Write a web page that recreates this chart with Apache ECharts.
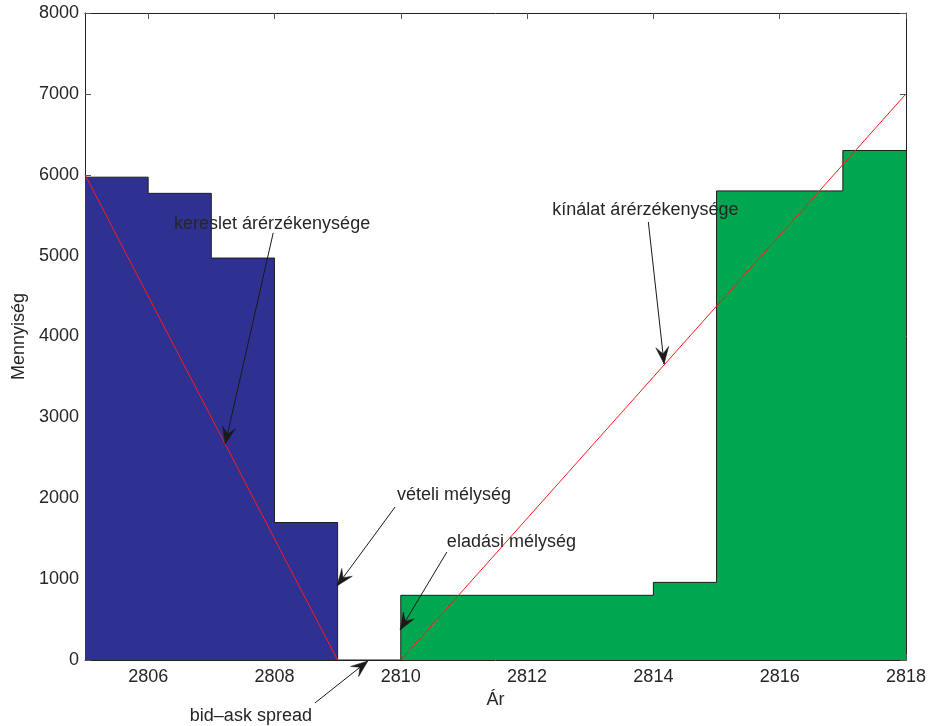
<!DOCTYPE html>
<html>
<head>
<meta charset="utf-8">
<script src="https://cdn.jsdelivr.net/npm/echarts@6/dist/echarts.min.js"></script>
<style>
  html, body { margin: 0; padding: 0; background: #fff; }
  #chart { width: 932px; height: 726px; }
</style>
</head>
<body>
<div id="chart"></div>
<script>
// Order book: bid side (demand) and ask side (supply) as stair steps
const bidPrices = [2805, 2806, 2807, 2808, 2809, 2810];
const bidQty    = [5970, 5770, 4970, 1700, 0, 0];
const askPrices = [2810, 2810, 2814, 2815, 2817, 2818];
const askQty    = [0, 800, 960, 5800, 6300, 6300];

// Price sensitivity lines
const demandLine = [[2805, 6000], [2809, 0]];
const supplyLine = [[2810, 0], [2818, 7000]];

const xTicks = [2806, 2808, 2810, 2812, 2814, 2816, 2818];

// Annotations: label, label anchor [price, qty], arrow start, arrow tip
const notes = [
  ['kereslet árérzékenysége', [2806.41, 5391], [2807.98, 5280], [2807.22, 2670]],
  ['vételi mélység',          [2809.94, 2040], [2809.91, 1892], [2808.99, 915]],
  ['eladási mélység',         [2810.73, 1459], [2810.73, 1335], [2809.99, 371]],
  ['kínálat árérzékenysége',  [2812.40, 5564], [2813.92, 5416], [2814.17, 3660]],
  ['bid\u2013ask spread',     [2806.66, -692], [2808.64, -532], [2809.48, -12]]
];

const font = '"Liberation Sans", Arial, Helvetica, sans-serif';
const textColor = '#262626';
const zip = (xs, ys) => xs.map((x, i) => [x, ys[i]]);

const chart = echarts.init(document.getElementById('chart'), null, { renderer: 'canvas' });

const tickStyle = { show: true, inside: true, length: 6, lineStyle: { color: '#555', width: 1 } };
const plain = v => String(v);

chart.setOption({
  backgroundColor: '#fff',
  animation: false,
  textStyle: { fontFamily: font },
  grid: { left: 85, right: 26, top: 13, bottom: 66, containLabel: false, outerBoundsMode: 'none' },
  xAxis: [{
    type: 'value', min: 2805, max: 2818,
    name: 'Ár', nameLocation: 'middle', nameGap: 28,
    nameTextStyle: { fontFamily: font, fontSize: 18, color: textColor },
    axisLine: { show: true, onZero: false, lineStyle: { color: '#222', width: 1 } },
    axisTick: Object.assign({ customValues: xTicks }, tickStyle),
    axisLabel: { customValues: xTicks, formatter: plain, margin: 8, fontFamily: font, fontSize: 18, color: textColor },
    splitLine: { show: false }
  }, {
    type: 'value', min: 2805, max: 2818, position: 'top',
    axisLine: { show: true, onZero: false, lineStyle: { color: '#222', width: 1 } },
    axisTick: Object.assign({ customValues: xTicks }, tickStyle),
    axisLabel: { show: false },
    splitLine: { show: false }
  }],
  yAxis: [{
    type: 'value', min: 0, max: 8000, interval: 1000,
    name: 'Mennyiség', nameLocation: 'middle', nameGap: 54,
    nameTextStyle: { fontFamily: font, fontSize: 18, color: textColor },
    axisLine: { show: true, onZero: false, lineStyle: { color: '#222', width: 1 } },
    axisTick: tickStyle,
    axisLabel: { formatter: plain, margin: 6, fontFamily: font, fontSize: 18, color: textColor },
    splitLine: { show: false }
  }, {
    type: 'value', min: 0, max: 8000, interval: 1000, position: 'right',
    axisLine: { show: true, onZero: false, lineStyle: { color: '#222', width: 1 } },
    axisTick: tickStyle,
    axisLabel: { show: false },
    splitLine: { show: false }
  }],
  series: [{
    name: 'vételi mélység',
    type: 'line', step: 'end', showSymbol: false, symbol: 'none',
    data: zip(bidPrices, bidQty),
    lineStyle: { color: '#1e1e1e', width: 1 },
    areaStyle: { color: '#2e3192', opacity: 1 },
    z: 2
  }, {
    name: 'eladási mélység',
    type: 'line', step: 'end', showSymbol: false, symbol: 'none',
    data: zip(askPrices, askQty),
    lineStyle: { color: '#1e1e1e', width: 1 },
    areaStyle: { color: '#00a650', opacity: 1 },
    z: 2
  }, {
    name: 'kereslet árérzékenysége',
    type: 'line', showSymbol: false, symbol: 'none',
    data: demandLine,
    lineStyle: { color: '#ff1a1a', width: 1 },
    z: 3
  }, {
    name: 'kínálat árérzékenysége',
    type: 'line', showSymbol: false, symbol: 'none',
    data: supplyLine,
    lineStyle: { color: '#ff1a1a', width: 1 },
    z: 3
  }]
});

// Text arrows placed through the axes' own scales
function arrowHead(tip, from, len, half) {
  const dx = tip[0] - from[0], dy = tip[1] - from[1];
  const d = Math.hypot(dx, dy) || 1;
  const ux = dx / d, uy = dy / d, nx = -uy, ny = ux;
  return [
    tip,
    [tip[0] - len * ux + half * nx, tip[1] - len * uy + half * ny],
    [tip[0] - 0.6 * len * ux, tip[1] - 0.6 * len * uy],
    [tip[0] - len * ux - half * nx, tip[1] - len * uy - half * ny]
  ];
}

const toPx = c => chart.convertToPixel({ xAxisIndex: 0, yAxisIndex: 0 }, c);
const elements = [];
notes.forEach(([label, anchor, from, tip]) => {
  const a = toPx(anchor), f = toPx(from), t = toPx(tip);
  elements.push({
    type: 'text', x: a[0], y: a[1], silent: true, z: 10,
    style: { text: label, fill: textColor, font: '18px ' + font, textVerticalAlign: 'middle', verticalAlign: 'middle', align: 'left' }
  });
  elements.push({
    type: 'line', silent: true, z: 10,
    shape: { x1: f[0], y1: f[1], x2: t[0], y2: t[1] },
    style: { stroke: '#1a1a1a', lineWidth: 1 }
  });
  elements.push({
    type: 'polygon', silent: true, z: 11,
    shape: { points: arrowHead(t, f, 17, 6.5) },
    style: { fill: '#1a1a1a', stroke: '#1a1a1a', lineWidth: 0.5 }
  });
});
chart.setOption({ graphic: { elements } });
</script>
</body>
</html>
